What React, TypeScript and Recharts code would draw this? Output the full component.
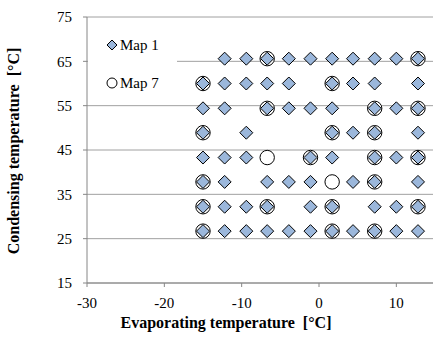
import React from 'react';
import { ScatterChart, Scatter, XAxis, YAxis, CartesianGrid, Legend, Label } from 'recharts';

// condensing levels (rows, top to bottom) and evaporating temps per row
const condLevels = [65.6, 60, 54.4, 48.9, 43.3, 37.8, 32.2, 26.7];

const map1Evap = [
  [-12.2, -9.4, -6.7, -3.9, -1.1, 1.7, 4.4, 7.2, 10, 12.8],
  [-15, -12.2, -9.4, -6.7, -3.9, 1.7, 4.4, 7.2, 12.8],
  [-15, -12.2, -6.7, -3.9, -1.1, 1.7, 7.2, 10, 12.8],
  [-15, -9.4, 1.7, 4.4, 7.2, 12.8],
  [-15, -12.2, -9.4, -1.1, 1.7, 7.2, 10, 12.8],
  [-15, -12.2, -6.7, -3.9, -1.1, 4.4, 7.2, 12.8],
  [-15, -12.2, -9.4, -6.7, -1.1, 1.7, 7.2, 10, 12.8],
  [-15, -12.2, -9.4, -6.7, -3.9, -1.1, 1.7, 4.4, 7.2, 10, 12.8],
];

const map7Evap = [
  [-6.7, 12.8],
  [-15, 1.7],
  [-6.7, 7.2, 12.8],
  [-15, 1.7, 7.2],
  [-6.7, -1.1, 7.2, 12.8],
  [-15, 1.7, 7.2],
  [-15, -6.7, 1.7, 12.8],
  [-15, 1.7, 7.2],
];

const xTicks = [-30, -20, -10, 0, 10];
const yTicks = [15, 25, 35, 45, 55, 65, 75];

const toPoints = (rows: number[][]) =>
  rows.flatMap((row, i) => row.map((x) => ({ x, y: condLevels[i] })));

const map1Data = toPoints(map1Evap);
const map7Data = toPoints(map7Evap);

const FONT = '"Liberation Serif", "Times New Roman", serif';
const DIAMOND_FILL = '#9bb7db';

const Diamond = (props: any) => {
  const { cx, cy } = props;
  const s = 6.5;
  return (
    <polygon
      points={`${cx},${cy - s} ${cx + s},${cy} ${cx},${cy + s} ${cx - s},${cy}`}
      fill={DIAMOND_FILL}
      stroke="#000"
      strokeWidth={1}
    />
  );
};

const Ring = (props: any) => {
  const { cx, cy } = props;
  return <circle cx={cx} cy={cy} r={7.2} fill="#fff" stroke="#000" strokeWidth={1} />;
};

const LegendBox = () => (
  <div style={{ position: 'relative', width: 89, height: 72, fontFamily: FONT, fontSize: 15, color: '#000' }}>
    <svg width={89} height={72} style={{ position: 'absolute', left: 0, top: 0 }}>
      <polygon points="24,12 29,17 24,22 19,17" fill={DIAMOND_FILL} stroke="#000" strokeWidth={1} />
      <circle cx={24} cy={55} r={5} fill="#fff" stroke="#000" strokeWidth={1} />
    </svg>
    <div style={{ position: 'absolute', left: 32, top: 8, lineHeight: '18px' }}>Map 1</div>
    <div style={{ position: 'absolute', left: 32, top: 46, lineHeight: '18px' }}>Map 7</div>
  </div>
);

const App: React.FC = () => {
  return (
    <div style={{ position: 'absolute', left: 0, top: 0, width: 433, height: 340, overflow: 'hidden', background: '#fff' }}>
      <ScatterChart width={445} height={340} margin={{ top: 17, right: 10, bottom: 27, left: 0 }}>
        <CartesianGrid horizontal vertical={false} stroke="#a0a0a0" strokeWidth={1} />
        <XAxis
          type="number"
          dataKey="x"
          domain={[-30, 15]}
          ticks={xTicks}
          allowDataOverflow
          height={30}
          stroke="#868686"
          tickSize={4}
          tickMargin={10}
          tick={{ fill: '#000', fontFamily: FONT, fontSize: 15 }}
        >
          <Label
            content={() => (
              <text
                x={226}
                y={328}
                textAnchor="middle"
                fontFamily={FONT}
                fontSize={16}
                fontWeight="bold"
                fill="#000"
                style={{ whiteSpace: 'pre' }}
              >
                {'Evaporating temperature  [°C]'}
              </text>
            )}
          />
        </XAxis>
        <YAxis
          type="number"
          dataKey="y"
          domain={[15, 75]}
          ticks={yTicks}
          allowDataOverflow
          width={87}
          stroke="#868686"
          tickSize={4}
          tickMargin={11}
          tick={{ fill: '#000', fontFamily: FONT, fontSize: 15 }}
        >
          <Label
            content={() => (
              <text
                x={19}
                y={151}
                transform="rotate(-90 19 151)"
                textAnchor="middle"
                fontFamily={FONT}
                fontSize={16}
                fontWeight="bold"
                fill="#000"
                style={{ whiteSpace: 'pre' }}
              >
                {'Condensing temperature  [°C]'}
              </text>
            )}
          />
        </YAxis>
        <Legend
          layout="vertical"
          align="center"
          verticalAlign="middle"
          wrapperStyle={{ position: 'absolute', left: 88, top: 28, width: 89, height: 72, background: '#fff' }}
          content={() => <LegendBox />}
        />
        <Scatter name="Map 7" data={map7Data} shape={Ring} isAnimationActive={false} />
        <Scatter name="Map 1" data={map1Data} shape={Diamond} isAnimationActive={false} />
      </ScatterChart>
    </div>
  );
};

export default App;
